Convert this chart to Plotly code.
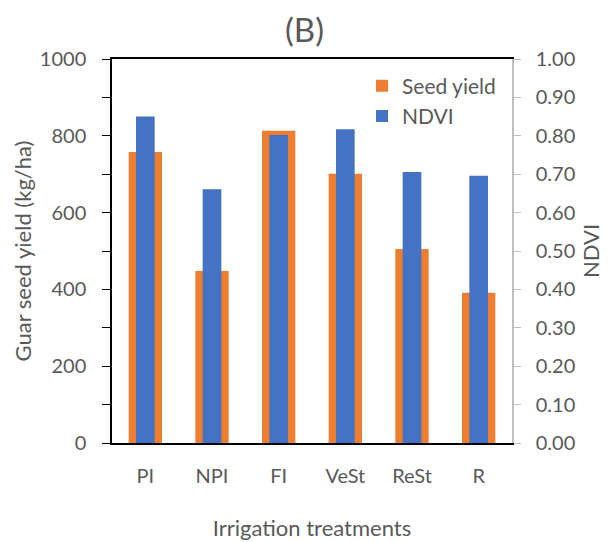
import plotly.graph_objects as go

categories = ["PI", "NPI", "FI", "VeSt", "ReSt", "R"]
seed_yield = [758, 448, 813, 701, 505, 391]
ndvi = [0.850, 0.661, 0.802, 0.817, 0.706, 0.696]

left_tickvals = list(range(0, 1001, 100))
left_ticktext = [str(v) if v % 200 == 0 else "" for v in left_tickvals]
right_tickvals = [i / 10 for i in range(0, 11)]

FONT = "Lato"
GREY = "#595959"

fig = go.Figure()
fig.add_trace(go.Bar(
    x=categories, y=seed_yield, name="Seed yield",
    marker=dict(color="#ED7D31", line=dict(width=0)),
    width=0.5, yaxis="y",
))
fig.add_trace(go.Bar(
    x=categories, y=ndvi, name="NDVI",
    marker=dict(color="#4472C4", line=dict(width=0)),
    width=0.28, yaxis="y2",
))

fig.update_layout(
    width=609, height=542,
    margin=dict(l=112, r=97, t=59, b=99),
    paper_bgcolor="white", plot_bgcolor="white",
    barmode="overlay",
    font=dict(family=FONT, color=GREY, size=20),
    title=dict(text="(B)", x=0.5, xanchor="center", y=1 - 30 / 542, yanchor="middle",
               font=dict(size=33, color=GREY, family=FONT)),
    showlegend=True,
    legend=dict(x=0.625, y=0.983, xanchor="left", yanchor="top",
                bgcolor="rgba(0,0,0,0)", font=dict(size=21, color=GREY),
                tracegroupgap=0, itemsizing="constant"),
    xaxis=dict(
        automargin=False,
        showline=True, linecolor="black", linewidth=1.5, mirror=True,
        ticks="", showgrid=False, ticklabelstandoff=14,
        tickfont=dict(size=20, color=GREY),
        title=dict(text="Irrigation treatments", font=dict(size=22, color=GREY), standoff=35),
    ),
    yaxis=dict(
        automargin=False,
        range=[0, 1000], tickvals=left_tickvals, ticktext=left_ticktext,
        showline=True, linecolor="black", linewidth=1.5,
        ticks="outside", ticklen=8, tickcolor="black", tickwidth=1.2,
        showgrid=False, zeroline=False, ticklabelstandoff=12,
        tickfont=dict(size=20, color=GREY),
        title=dict(text="Guar seed yield (kg/ha)", font=dict(size=22, color=GREY), standoff=2),
    ),
    yaxis2=dict(
        automargin=False,
        range=[0, 1.0], tickvals=right_tickvals, tickformat=".2f",
        overlaying="y", side="right",
        showline=True, linecolor="#BFBFBF", linewidth=1.5,
        ticks="outside", ticklen=7, tickcolor="#BFBFBF", tickwidth=1.2,
        showgrid=False, zeroline=False, ticklabelstandoff=11,
        tickfont=dict(size=20, color=GREY),
        title=dict(text="NDVI", font=dict(size=22, color=GREY), standoff=9),
    ),
)

fig.write_html("out.html")
